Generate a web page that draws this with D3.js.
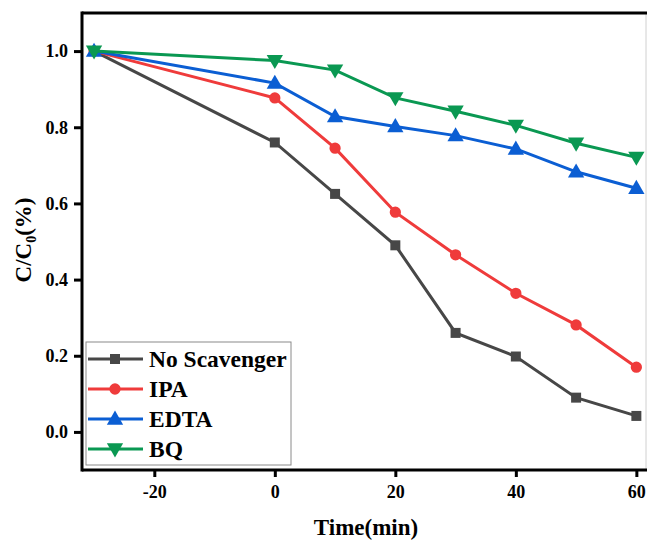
<!DOCTYPE html>
<html>
<head>
<meta charset="utf-8">
<script src="https://cdn.jsdelivr.net/npm/d3@7/dist/d3.min.js"></script>
<style>
  html, body { margin: 0; padding: 0; background: #fff; }
  svg { display: block; }
  text { font-family: "Liberation Serif", "Times New Roman", serif; font-weight: bold; }
</style>
</head>
<body>
<svg id="chart" width="647" height="540"></svg>
<script>
// Degradation over time with different scavengers
const times = [-30, 0, 10, 20, 30, 40, 50, 60];
const seriesNames = ["No Scavenger", "IPA", "EDTA", "BQ"];
const noScavenger = [1.0, 0.76, 0.625, 0.49, 0.26, 0.198, 0.09, 0.042];
const ipa = [1.0, 0.877, 0.745, 0.577, 0.465, 0.364, 0.281, 0.17];
const edta = [1.0, 0.916, 0.828, 0.802, 0.778, 0.743, 0.683, 0.64];
const bq = [1.0, 0.975, 0.95, 0.877, 0.842, 0.805, 0.758, 0.721];
const xTicks = [-20, 0, 20, 40, 60];
const yTicks = [0.0, 0.2, 0.4, 0.6, 0.8, 1.0];

const colors = ["#474747", "#EF3B3B", "#0B5ED3", "#0A9852"];
const symbols = [d3.symbolSquare, d3.symbolCircle, d3.symbolTriangle, d3.symbolTriangle];
const symbolSizes = [100, 100, 115, 115];
const rotations = [0, 0, 0, 180];
const values = [noScavenger, ipa, edta, bq];

const svg = d3.select("#chart");
const plotLeft = 82, plotRight = 646, plotTop = 13, plotBottom = 470;

const x = d3.scaleLinear().domain([-32, 61.6]).range([plotLeft, plotRight]);
const y = d3.scaleLinear().domain([-0.1, 1.1]).range([plotBottom, plotTop]);

// frame: thin grey right edge, heavy black top
svg.append("line").attr("x1", plotRight).attr("x2", plotRight).attr("y1", plotTop).attr("y2", plotBottom)
  .attr("stroke", "#d0d0d0").attr("stroke-width", 1);
svg.append("line").attr("x1", plotLeft).attr("x2", 647).attr("y1", plotTop).attr("y2", plotTop)
  .attr("stroke", "#000").attr("stroke-width", 3);

// axes (plain hyphen for negative tick values)
const xAxis = svg.append("g").attr("transform", `translate(0,${plotBottom})`)
  .call(d3.axisBottom(x).tickValues(xTicks).tickSize(7).tickPadding(8).tickFormat(d => String(d)));
const yAxis = svg.append("g").attr("transform", `translate(${plotLeft},0)`)
  .call(d3.axisLeft(y).tickValues(yTicks).tickSize(8).tickPadding(6).tickFormat(d3.format(".1f")));

[xAxis, yAxis].forEach(g => {
  g.select(".domain").attr("stroke", "#000").attr("stroke-width", 3);
  g.selectAll(".tick line").attr("stroke", "#000").attr("stroke-width", 3);
  g.selectAll(".tick text").attr("fill", "#000").style("font-size", "18px")
    .style("font-family", "'Liberation Serif', serif").style("font-weight", "bold");
});
xAxis.select(".domain").attr("d", `M${plotLeft},0H${647}`);
yAxis.select(".domain").attr("d", `M0,${plotBottom + 1.5}V${plotTop - 1.5}`);

// axis titles
svg.append("text").attr("x", 366).attr("y", 535).attr("text-anchor", "middle")
  .style("font-size", "23px").text("Time(min)");

const yTitle = svg.append("text")
  .attr("transform", "translate(31,240) rotate(-90)")
  .attr("text-anchor", "middle").style("font-size", "23px");
yTitle.append("tspan").text("C/C");
yTitle.append("tspan").attr("dy", 5).style("font-size", "14px").text("0");
yTitle.append("tspan").attr("dy", -5).text("(%)");

// series
const line = d3.line().x((d, i) => x(times[i])).y(d => y(d));
values.forEach((vals, s) => {
  const g = svg.append("g");
  g.append("path").datum(vals).attr("d", line)
    .attr("fill", "none").attr("stroke", colors[s]).attr("stroke-width", 3);
  g.selectAll("path.pt").data(vals).enter().append("path").attr("class", "pt")
    .attr("d", d3.symbol().type(symbols[s]).size(symbolSizes[s]))
    .attr("transform", (d, i) => `translate(${x(times[i])},${y(d) + (s === 2 ? 1 : s === 3 ? -1 : 0)}) rotate(${rotations[s]})`)
    .attr("fill", colors[s]);
});

// legend
const legend = svg.append("g");
legend.append("rect").attr("x", 86).attr("y", 342).attr("width", 205).attr("height", 123)
  .attr("fill", "#fff").attr("stroke", "#8a8a8a").attr("stroke-width", 1);
seriesNames.forEach((name, s) => {
  const cy = 359 + s * 30;
  legend.append("line").attr("x1", 88).attr("x2", 143).attr("y1", cy).attr("y2", cy)
    .attr("stroke", colors[s]).attr("stroke-width", 3);
  legend.append("path").attr("d", d3.symbol().type(symbols[s]).size(symbolSizes[s])())
    .attr("transform", `translate(115,${cy + (s === 2 ? 1 : s === 3 ? -1 : 0)}) rotate(${rotations[s]})`)
    .attr("fill", colors[s]);
  legend.append("text").attr("x", 149).attr("y", cy + 8).style("font-size", "23.5px").text(name);
});
</script>
</body>
</html>
